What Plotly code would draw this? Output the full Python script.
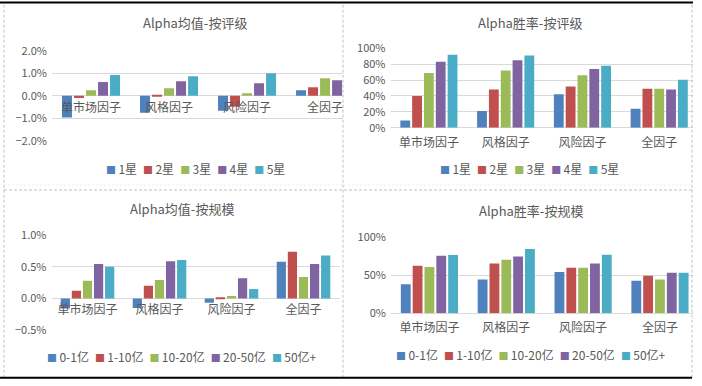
import plotly.graph_objects as go

# ---------------- data ----------------
categories = ["单市场因子", "风格因子", "风险因子", "全因子"]
rating_names = ["1星", "2星", "3星", "4星", "5星"]
size_names = ["0-1亿", "1-10亿", "10-20亿", "20-50亿", "50亿+"]
colors = ["#4F81BD", "#C0504D", "#9BBB59", "#8064A2", "#4BACC6"]

# Alpha均值-按评级 (%), one list per rating, values per category
mean_rating_1 = [-0.96, -0.75, -0.66, 0.25]
mean_rating_2 = [-0.09, 0.01, -0.48, 0.38]
mean_rating_3 = [0.25, 0.34, 0.12, 0.78]
mean_rating_4 = [0.61, 0.65, 0.56, 0.69]
mean_rating_5 = [0.92, 0.87, 1.00, 0.95]

# Alpha胜率-按评级 (%)
win_rating_1 = [9, 21, 42, 24]
win_rating_2 = [40, 48, 52, 49]
win_rating_3 = [69, 72, 66, 49]
win_rating_4 = [83, 85, 74, 48]
win_rating_5 = [92, 91, 78, 60.5]

# Alpha均值-按规模 (%)
mean_size_1 = [-0.16, -0.15, -0.07, 0.58]
mean_size_2 = [0.12, 0.20, 0.02, 0.74]
mean_size_3 = [0.28, 0.29, 0.04, 0.34]
mean_size_4 = [0.545, 0.59, 0.32, 0.545]
mean_size_5 = [0.50, 0.61, 0.15, 0.68]

# Alpha胜率-按规模 (%)
win_size_1 = [38, 44, 54, 42.6]
win_size_2 = [62, 65, 59.5, 49]
win_size_3 = [60.5, 70, 59.5, 44]
win_size_4 = [75, 74, 65, 53]
win_size_5 = [76, 84, 76.5, 53]

titles = ["Alpha均值-按评级", "Alpha胜率-按评级", "Alpha均值-按规模", "Alpha胜率-按规模"]

panels = [
    ("x", "y", rating_names, [mean_rating_1, mean_rating_2, mean_rating_3, mean_rating_4, mean_rating_5]),
    ("x2", "y2", rating_names, [win_rating_1, win_rating_2, win_rating_3, win_rating_4, win_rating_5]),
    ("x3", "y3", size_names, [mean_size_1, mean_size_2, mean_size_3, mean_size_4, mean_size_5]),
    ("x4", "y4", size_names, [win_size_1, win_size_2, win_size_3, win_size_4, win_size_5]),
]

# ---------------- figure ----------------
W, H = 702, 386
FONT = "Noto Sans CJK SC"
TXT = "#595959"
GRID = "#d9d9d9"


def px(x):
    return x / W


def py(y):
    return 1 - y / H


fig = go.Figure()
for xa, ya, names, series in panels:
    for name, vals, col in zip(names, series, colors):
        fig.add_trace(go.Bar(x=categories, y=vals, name=name, xaxis=xa, yaxis=ya,
                             marker=dict(color=col, line=dict(width=0)),
                             showlegend=False))

tickfont = dict(family=FONT, size=11, color=TXT)
catfont = dict(family=FONT, size=12, color=TXT)

common_x = dict(type="category", showgrid=False, ticks="", tickfont=catfont,
                showline=False, zeroline=False, fixedrange=True, automargin=False)
common_y = dict(showgrid=True, gridcolor=GRID, gridwidth=1, zeroline=True,
                zerolinecolor=GRID, zerolinewidth=1, ticks="", tickfont=tickfont,
                showline=False, fixedrange=True, ticklabelstandoff=4, automargin=False)

fig.update_layout(
    width=W, height=H,
    margin=dict(l=0, r=0, t=0, b=0, pad=0, autoexpand=False),
    paper_bgcolor="white", plot_bgcolor="white",
    barmode="group", bargap=0.23, bargroupgap=0.17,
    showlegend=False,
    font=dict(family=FONT, color=TXT),
    xaxis=dict(common_x, domain=[px(52), px(343)], range=[-0.5, 3.23],
               anchor="free", position=py(95.7), ticklabelstandoff=3),
    yaxis=dict(common_y, domain=[py(141), py(50.7)], range=[-2, 2], dtick=1,
               tickformat=".1f", ticksuffix="%", anchor="x"),
    xaxis2=dict(common_x, domain=[px(390.5), px(693)], range=[-0.5, 3.44],
                anchor="y2", ticklabelstandoff=6),
    yaxis2=dict(common_y, domain=[py(127.7), py(48.3)], range=[0, 100], dtick=20,
                tickformat=".0f", ticksuffix="%", anchor="x2"),
    xaxis3=dict(common_x, domain=[px(51.5), px(339.5)], range=[-0.5, 3.5],
                anchor="free", position=py(298.3), ticklabelstandoff=3),
    yaxis3=dict(common_y, domain=[py(330), py(235.3)], range=[-0.5, 1.0], dtick=0.5,
                tickformat=".1f", ticksuffix="%", anchor="x3"),
    xaxis4=dict(common_x, domain=[px(391), px(693)], range=[-0.5, 3.43],
                anchor="y4", ticklabelstandoff=6),
    yaxis4=dict(common_y, domain=[py(313.3), py(236.7)], range=[0, 100], dtick=50,
                tickformat=".0f", ticksuffix="%", anchor="x4"),
)

# titles
title_pos = [(195, 23), (530, 23), (182, 208), (531, 210)]
for t, (tx, ty) in zip(titles, title_pos):
    fig.add_annotation(text=t, x=px(tx), y=py(ty), xref="paper", yref="paper",
                       xanchor="center", yanchor="middle", showarrow=False,
                       font=dict(family=FONT, size=13, color=TXT))


# legends (one per chart, built from series names and colours)
def legend_text(names):
    parts = []
    for n, c in zip(names, colors):
        parts.append(f'<span style="color:{c};font-size:10px">■</span>\u2009{n}')
    return "\u2002".join(parts)


legend_pos = [(195, 168, rating_names), (529, 168, rating_names),
              (182, 356, size_names), (531, 354, size_names)]
for lx, ly, names in legend_pos:
    fig.add_annotation(text=legend_text(names), x=px(lx), y=py(ly), xref="paper",
                       yref="paper", xanchor="center", yanchor="middle",
                       showarrow=False, font=dict(family=FONT, size=12, color=TXT))

# frame lines of the composited screenshot
dash = dict(color="#c0c0c0", width=1, dash="3px,2px")
for x0 in (4, 343, 692):
    fig.add_shape(type="line", xref="paper", yref="paper", x0=px(x0), x1=px(x0),
                  y0=py(377.7), y1=py(2.5), line=dash)
fig.add_shape(type="line", xref="paper", yref="paper", x0=px(4), x1=px(692),
              y0=py(190), y1=py(190), line=dash)
fig.add_shape(type="line", xref="paper", yref="paper", x0=px(4), x1=px(692),
              y0=py(185), y1=py(185), line=dict(color="#ececec", width=1, dash="2px,2px"))
fig.add_shape(type="line", xref="paper", yref="paper", x0=0, x1=px(693),
              y0=py(2.5), y1=py(2.5), line=dict(color="black", width=2))
fig.add_shape(type="line", xref="paper", yref="paper", x0=0, x1=px(692),
              y0=py(377.7), y1=py(377.7), line=dict(color="black", width=2))

fig.write_html("out.html", config={"displayModeBar": False},
               post_script="document.body.style.margin='0';document.body.style.padding='0';")
